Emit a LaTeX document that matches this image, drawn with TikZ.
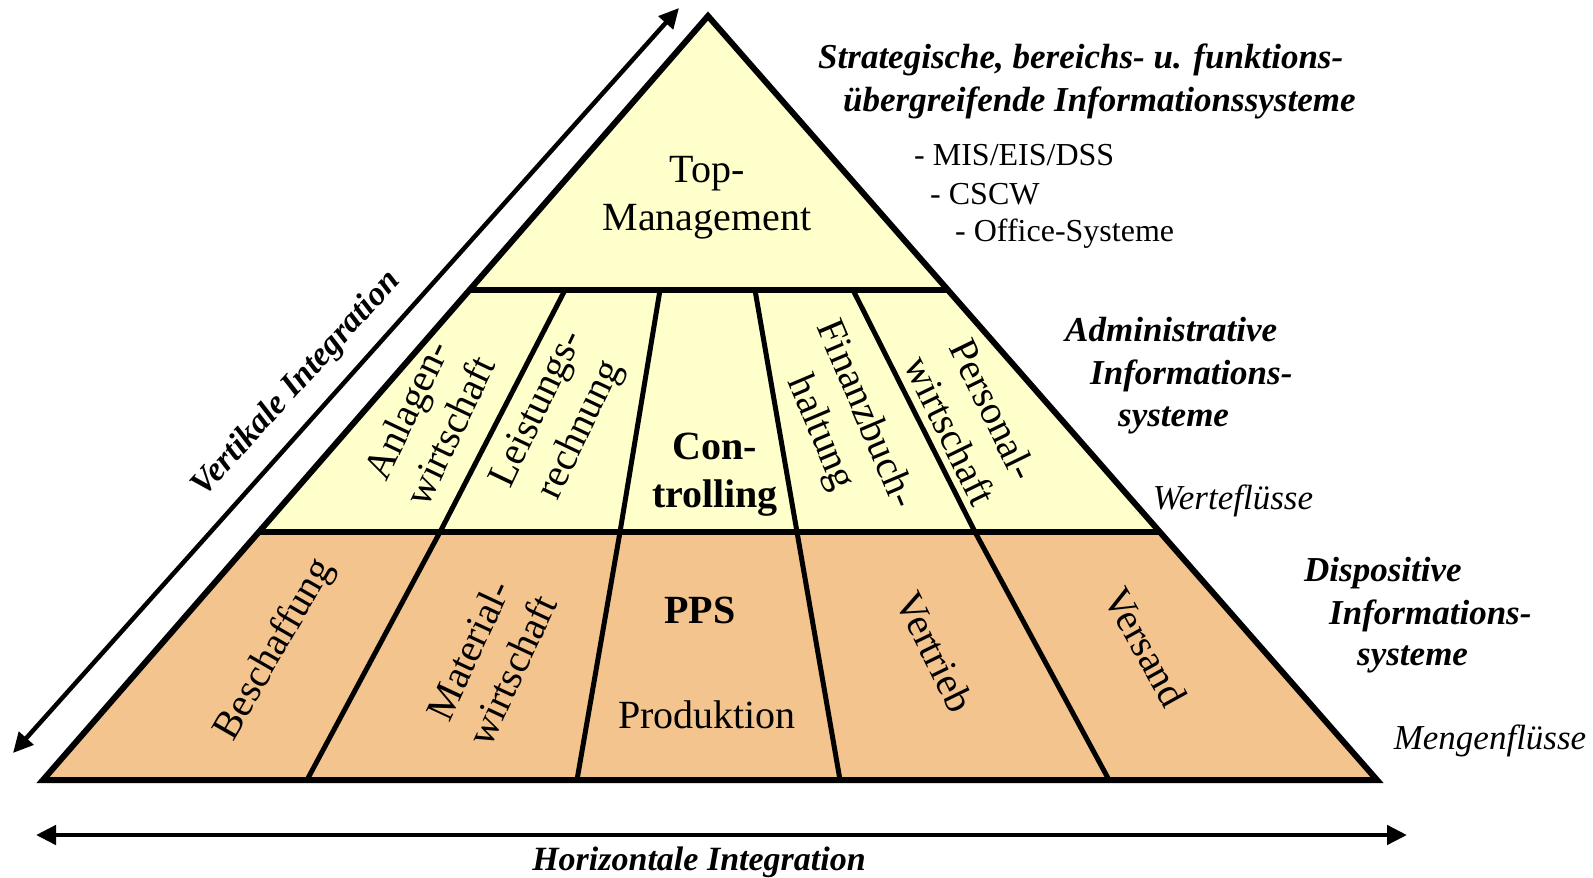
\documentclass[tikz,border=0pt]{standalone}
\usepackage{fontspec}
\setmainfont{Liberation Serif}
\usetikzlibrary{arrows.meta}
\definecolor{pyryellow}{RGB}{255,255,204}
\definecolor{pyrorange}{RGB}{244,196,142}
\begin{document}
\begin{tikzpicture}[x=1pt,y=-1pt,
  outline/.style={line width=6pt, line join=miter},
  bandline/.style={line width=6pt},
  divider/.style={line width=5pt},
  lbl/.style={inner sep=0pt, align=center, font=\fontsize{40}{48}\selectfont},
  blbl/.style={inner sep=0pt, align=center, font=\fontsize{40}{48}\selectfont\bfseries},
  side/.style={inner sep=0pt, anchor=base west, font=\fontsize{35}{42}\selectfont\bfseries\itshape},
  flow/.style={inner sep=0pt, font=\fontsize{35}{42}\selectfont\itshape},
  item/.style={inner sep=0pt, anchor=west, font=\fontsize{32}{38}\selectfont},
  integlbl/.style={inner sep=0pt, font=\fontsize{34}{40}\selectfont\bfseries\itshape},
  integ/.style={line width=4.5pt, {Triangle[length=20pt,width=19pt]}-{Triangle[length=20pt,width=19pt]}},
]
\path[use as bounding box] (0,0) rectangle (1593,878);

% corners
\coordinate (apex) at (708,16);
\coordinate (bl) at (43,780);
\coordinate (br) at (1377,780);
\coordinate (t1l) at (469.5,290);
\coordinate (t1r) at (948,290);
\coordinate (t2l) at (259,532);
\coordinate (t2r) at (1160,532);
% divider points
\coordinate (a1) at (565,290);
\coordinate (a2) at (660,290);
\coordinate (a3) at (755,290);
\coordinate (a4) at (853,290);
\coordinate (m1) at (440,532);
\coordinate (m2) at (620,532);
\coordinate (m3) at (797,532);
\coordinate (m4) at (975,532);
\coordinate (b1) at (307,780);
\coordinate (b2) at (577,780);
\coordinate (b3) at (840,780);
\coordinate (b4) at (1109,780);

% fills
\fill[pyryellow] (apex) -- (t2r) -- (t2l) -- cycle;
\fill[pyrorange] (t2l) -- (t2r) -- (br) -- (bl) -- cycle;

% lines
\draw[bandline] (t1l) -- (t1r);
\draw[bandline] (t2l) -- (t2r);
\draw[divider] (a1) -- (m1) -- (b1);
\draw[divider] (a2) -- (m2) -- (b2);
\draw[divider] (a3) -- (m3) -- (b3);
\draw[divider] (a4) -- (m4) -- (b4);
\draw[outline] (apex) -- (br) -- (bl) -- cycle;

% integration arrows
\coordinate (vbot) at (13,753);
\coordinate (vtop) at (679,8);
\draw[integ] (vbot) -- (vtop);
\coordinate (hl) at (36,835);
\coordinate (hr) at (1407,835);
\draw[integ] (hl) -- (hr);
\node[integlbl, rotate=47.7] (vlbl) at (297,384) {Vertikale Integration};
\node[integlbl] (hlbl) at (699,862) {Horizontale Integration};

% pyramid labels
\node[lbl] (top) at (707,198) {Top-\\Management};
\node[lbl, rotate=64.5] (anl) at (428,420) {Anlagen-\\wirtschaft};
\node[lbl, rotate=64.5] (lei) at (560,420) {Leistungs-\\rechnung};
\node[blbl] (con) at (715,475) {Con-\\trolling};
\node[lbl, rotate=-67] (fin) at (842,424) {Finanzbuch-\\haltung};
\node[lbl, rotate=-64] (per) at (972,420) {Personal-\\wirtschaft};
\node[lbl, rotate=60] (bes) at (275,650) {Beschaffung};
\node[lbl, rotate=65] (mat) at (490,660) {Material-\\wirtschaft};
\node[blbl] (pps) at (700,610) {PPS};
\node[lbl] (prod) at (707,715) {Produktion};
\node[lbl, rotate=-64] (vert) at (935,652) {Vertrieb};
\node[lbl, rotate=-61] (vers) at (1146,647) {Versand};

% side texts
\node[side] (strat1) at (818,68) {Strategische, bereichs- u. funktions-};
\node[side] (strat2) at (843,111) {übergreifende Informationssysteme};
\node[item] (mis) at (914,155) {- MIS/EIS/DSS};
\node[item] (cscw) at (930,194) {- CSCW};
\node[item] (office) at (955,234) {- Office-Systeme};
\node[side] (adm1) at (1065,341) {Administrative};
\node[side] (adm2) at (1090,384) {Informations-};
\node[side] (adm3) at (1118,426) {systeme};
\node[flow] (wert) at (1233,501) {Werteflüsse};
\node[side] (dis1) at (1304,581) {Dispositive};
\node[side] (dis2) at (1329,624) {Informations-};
\node[side] (dis3) at (1357,665) {systeme};
\node[flow] (meng) at (1490,741) {Mengenflüsse};
\end{tikzpicture}
\end{document}
